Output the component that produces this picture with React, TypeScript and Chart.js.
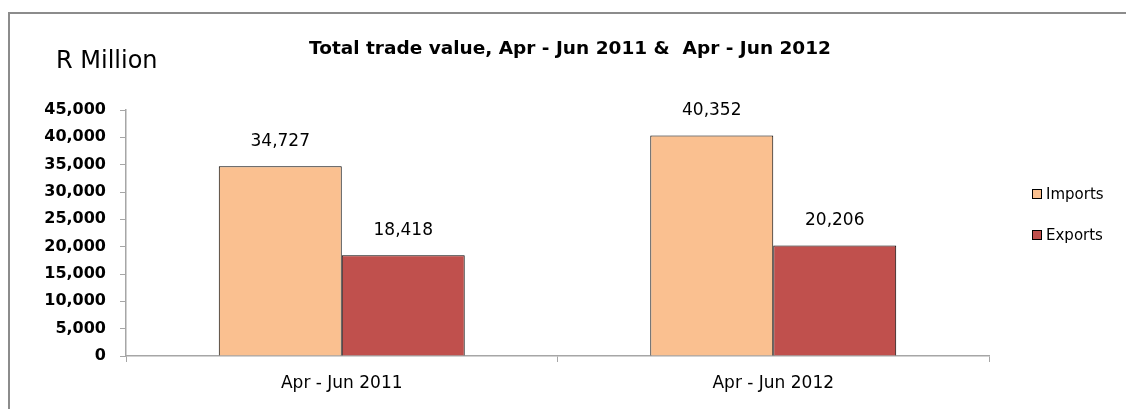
import React, { useEffect, useRef } from "react";
import { Chart, registerables } from "chart.js";

Chart.register(...registerables);

const categories = ["Apr - Jun 2011", "Apr - Jun 2012"];
const seriesNames = ["Imports", "Exports"];
const importsValues = [34727, 40352];
const exportsValues = [18418, 20206];
const yTicks = [0, 5000, 10000, 15000, 20000, 25000, 30000, 35000, 40000, 45000];
const titleText = "Total trade value, Apr - Jun 2011 &  Apr - Jun 2012";
const unitText = "R Million";

const FONT = "'DejaVu Sans', sans-serif";
const fmt = (v: number) => v.toLocaleString("en-US");

const decorPlugin = {
  id: "decor",
  beforeDraw(chart: any) {
    const ctx = chart.ctx;
    ctx.save();
    ctx.fillStyle = "#ffffff";
    ctx.fillRect(0, 0, chart.width, chart.height);
    ctx.strokeStyle = "#8c8c8c";
    ctx.lineWidth = 2;
    ctx.beginPath();
    ctx.moveTo(9, chart.height + 5);
    ctx.lineTo(9, 13);
    ctx.lineTo(chart.width + 5, 13);
    ctx.stroke();
    ctx.restore();
  },
  afterDraw(chart: any) {
    const ctx = chart.ctx;
    ctx.save();
    ctx.fillStyle = "#000";
    ctx.font = `bold 18.5px ${FONT}`;
    ctx.textAlign = "center";
    ctx.textBaseline = "middle";
    ctx.fillText(titleText, 570, 49);
    ctx.font = `24px ${FONT}`;
    ctx.textAlign = "left";
    ctx.fillText(unitText, 56, 62);
    ctx.font = `17px ${FONT}`;
    ctx.textAlign = "center";
    chart.data.datasets.forEach((ds: any, i: number) => {
      const meta = chart.getDatasetMeta(i);
      meta.data.forEach((bar: any, j: number) => {
        ctx.fillText(fmt(ds.data[j]), bar.x, bar.y - 25);
      });
    });
    const ys = [194, 235];
    chart.data.datasets.forEach((ds: any, i: number) => {
      ctx.fillStyle = ds.backgroundColor;
      ctx.fillRect(1032, ys[i] - 5, 10, 10);
      ctx.strokeStyle = "#000";
      ctx.lineWidth = 1;
      ctx.strokeRect(1032.5, ys[i] - 4.5, 9, 9);
      ctx.fillStyle = "#000";
      ctx.font = `15px ${FONT}`;
      ctx.textAlign = "left";
      ctx.fillText(ds.label, 1046, ys[i] + 1);
    });
    ctx.restore();
  },
};

export default function App() {
  const ref = useRef<HTMLCanvasElement>(null);
  useEffect(() => {
    if (!ref.current) return;
    const chart = new Chart(ref.current, {
      type: "bar",
      data: {
        labels: categories,
        datasets: [
          {
            label: seriesNames[0],
            data: importsValues,
            backgroundColor: "#FAC090",
            borderColor: "#000000",
            borderWidth: 1,
            categoryPercentage: 0.57,
            barPercentage: 1,
          },
          {
            label: seriesNames[1],
            data: exportsValues,
            backgroundColor: "#C0504D",
            borderColor: "#000000",
            borderWidth: 1,
            categoryPercentage: 0.57,
            barPercentage: 1,
          },
        ],
      },
      options: {
        animation: false,
        responsive: false,
        maintainAspectRatio: false,
        layout: { padding: { top: 110, right: 137, left: 0, bottom: 0 } },
        plugins: {
          legend: { display: false },
          title: { display: false },
          tooltip: { enabled: false },
        },
        scales: {
          x: {
            afterFit: (s: any) => {
              s.height = 53;
            },
            grid: {
              display: true,
              drawOnChartArea: false,
              drawTicks: true,
              tickLength: 6,
              color: "#a6a6a6",
              offset: true,
            },
            border: { display: true, color: "#a6a6a6", width: 1.5 },
            ticks: {
              padding: 11,
              color: "#000",
              font: { family: FONT, size: 17 },
            },
          },
          y: {
            min: 0,
            max: 45000,
            afterFit: (s: any) => {
              s.width = 126;
            },
            afterBuildTicks: (s: any) => {
              s.ticks = yTicks.map((v) => ({ value: v }));
            },
            grid: {
              display: true,
              drawOnChartArea: false,
              drawTicks: true,
              tickLength: 6,
              color: "#a6a6a6",
            },
            border: { display: true, color: "#a6a6a6", width: 1.5 },
            ticks: {
              padding: 14,
              color: "#000",
              font: { family: FONT, size: 16, weight: "bold" },
              callback: (v: any) => fmt(Number(v)),
            },
          },
        },
      },
      plugins: [decorPlugin],
    });
    return () => chart.destroy();
  }, []);
  return (
    <div style={{ position: "absolute", left: 0, top: 0, width: 1126, height: 409 }}>
      <canvas ref={ref} width={1126} height={409} style={{ width: 1126, height: 409, display: "block" }} />
    </div>
  );
}
